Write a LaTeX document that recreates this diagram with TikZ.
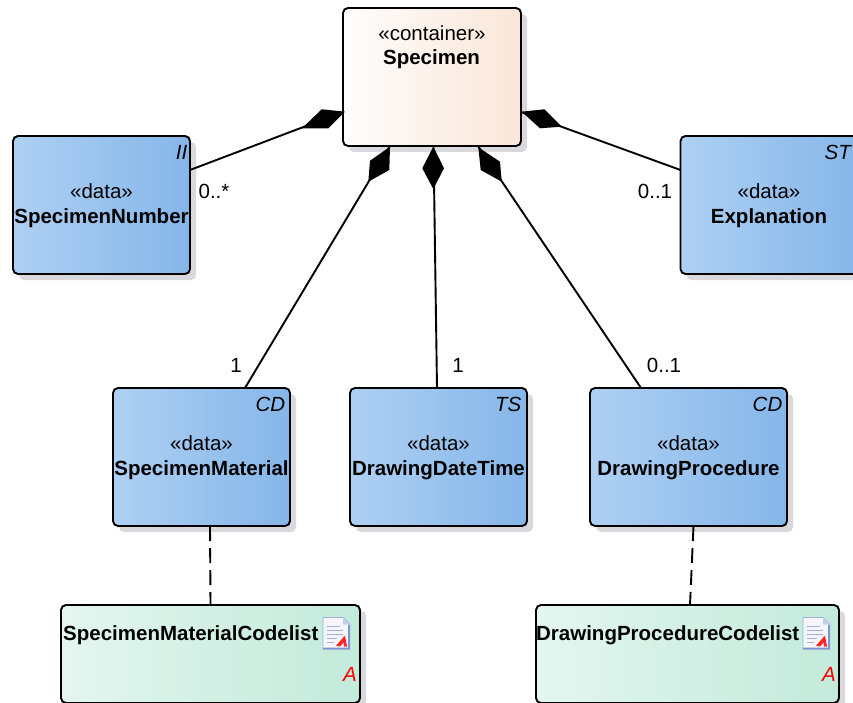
\documentclass[tikz,border=0pt]{standalone}
\usepackage{fontspec}
\setmainfont{Liberation Sans}
\usetikzlibrary{shadows,calc}
\definecolor{blueL}{HTML}{AED0F3}
\definecolor{blueR}{HTML}{85B6E9}
\definecolor{peachL}{HTML}{FFFDFC}
\definecolor{peachR}{HTML}{FAE6D9}
\definecolor{greenL}{HTML}{E4F6EF}
\definecolor{greenR}{HTML}{C2EADB}
\definecolor{shadowgray}{HTML}{D8D8DD}
\definecolor{iconline}{HTML}{A3AEDB}
\definecolor{iconedge}{HTML}{7F95CF}
\definecolor{iconpage}{HTML}{F4F6FC}
\newcommand{\datatext}[1]{\rule{0pt}{17pt}«data»\\\textbf{#1}}
\tikzset{
  umlbox/.style={draw=black,line width=1.9pt,rounded corners=5pt,inner sep=0pt,outer sep=0pt,align=center,
    drop shadow={shadow xshift=6pt,shadow yshift=-6pt,opacity=1,fill=shadowgray}},
  databox/.style={umlbox,minimum height=138pt,left color=blueL,right color=blueR},
  containerbox/.style={umlbox,minimum height=138pt,minimum width=178pt,left color=peachL,right color=peachR},
  codebox/.style={umlbox,minimum height=98pt,left color=greenL,right color=greenR},
  txt/.style={font=\fontsize{20.5}{25}\selectfont,inner sep=0pt},
  tag/.style={txt,font=\fontsize{20.5}{25}\selectfont\itshape,anchor=east},
  assoc/.style={draw=black,line width=1.9pt},
  realize/.style={draw=black,line width=1.9pt,dash pattern=on 15pt off 7pt},
  compdiamond/.style={fill=black,draw=none},
  codeicon/.pic={
    \fill[iconpage] (0,0) -- (20,0) -- (27,7) -- (27,32) -- (0,32) -- cycle;
    \fill[iconedge] (25,7) -- (27,7) -- (27,32) -- (0,32) -- (0,30) -- (25,30) -- cycle;
    \draw[iconline,line width=.8pt] (0,32) -- (0,0) -- (20,0) -- (27,7);
    \fill[iconline!60] (20,0) -- (20,7) -- (27,7) -- cycle;
    \foreach \yy/\xx in {9/17,13/20,17/20,21/14,25/11}
      \draw[iconline,line width=1.2pt] (4,\yy) -- (\xx,\yy);
    \fill[red!85!white] (13,28) -- (22,18) -- (24,29) -- (21,29) -- (20.5,25) -- (17,29) -- cycle;
  }
}
\begin{document}
\begin{tikzpicture}[x=1pt,y=-1pt]
    \useasboundingbox (0,0) rectangle (853,703);
    \clip (0,0) rectangle (853,703);
%% boxes, top row first
    \node[containerbox] (Specimen) at (432,77) {};
    \node[databox,minimum width=177pt,txt] (SpecimenNumber) at (101.5,205) {\datatext{SpecimenNumber}};
    \node[databox,minimum width=177pt,txt] (Explanation) at (769,205) {\datatext{Explanation}};
    \node[databox,minimum width=177pt,txt] (SpecimenMaterial) at (201.5,457) {\datatext{SpecimenMaterial}};
    \node[databox,minimum width=177pt,txt] (DrawingDateTime) at (438.5,457) {\datatext{DrawingDateTime}};
    \node[databox,minimum width=197pt,txt] (DrawingProcedure) at (688.5,457) {\datatext{DrawingProcedure}};
    \node[codebox,minimum width=299pt] (SpecimenMaterialCodelist) at (210.5,654) {};
    \node[codebox,minimum width=303pt] (DrawingProcedureCodelist) at (687.5,654) {};
%% texts that are not centred in their box
    \node[txt] (containerStereo) at (432,33.5) {«container»};
    \node[txt] (containerName) at (431.5,59) {\textbf{Specimen}};
    \node[txt,anchor=west] (materialCodeName) at (63,635.5) {\textbf{SpecimenMaterialCodelist}};
    \node[txt,anchor=east] (procedureCodeName) at (799.5,635.5) {\textbf{DrawingProcedureCodelist}};
%% type tags in the corners
    \node[tag] (tagII) at (187.5,152) {II};
    \node[tag] (tagST) at (851,152) {ST};
    \node[tag] (tagCDa) at (285.5,404) {CD};
    \node[tag] (tagTS) at (521.5,404) {TS};
    \node[tag] (tagCDb) at (782.5,404) {CD};
    \node[tag,red] (tagAa) at (357,674) {A};
    \node[tag,red] (tagAb) at (836,674) {A};
%% document icons
    \pic (iconA) at (323,617.5) {codeicon};
    \pic (iconB) at (803,617.5) {codeicon};
%% connectors
    \draw[assoc] ([yshift=35pt]SpecimenNumber.east) -- ([yshift=-35pt]Specimen.west);
    \draw[assoc] ([yshift=35pt]Explanation.west) -- ([yshift=-35pt]Specimen.east);
    \draw[assoc] ([xshift=43.5pt]SpecimenMaterial.north) -- ([xshift=-42pt]Specimen.south);
    \draw[assoc] ([xshift=-1.5pt]DrawingDateTime.north) -- ([xshift=1.5pt]Specimen.south);
    \draw[assoc] ([xshift=-47.5pt]DrawingProcedure.north) -- ([xshift=46pt]Specimen.south);
    \draw[realize] ([xshift=8.5pt]SpecimenMaterial.south) -- (SpecimenMaterialCodelist.north);
    \draw[realize] ([xshift=5pt]DrawingProcedure.south) -- ([xshift=2.5pt]DrawingProcedureCodelist.north);
%% the filled diamonds at the container end
    \fill[compdiamond] (345,111.7) -- (321.7,109.3) -- (302,128.3) -- (328.3,128.3) -- cycle;
    \fill[compdiamond] (521.7,111.7) -- (544.3,109.3) -- (561.7,126.7) -- (540,128.3) -- cycle;
    \fill[compdiamond] (390,146.7) -- (370,160.7) -- (368.3,181.7) -- (389.3,170) -- cycle;
    \fill[compdiamond] (433.3,146.7) -- (422.3,168.3) -- (433.3,189) -- (444,168.3) -- cycle;
    \fill[compdiamond] (478.3,147.3) -- (480.7,170) -- (501.7,181.7) -- (500,161.7) -- cycle;
%% multiplicities
    \node[txt] (multNumber) at (214,191) {0..*};
    \node[txt] (multExplanation) at (655,191) {0..1};
    \node[txt] (multMaterial) at (236,365) {1};
    \node[txt] (multDateTime) at (458,365) {1};
    \node[txt] (multProcedure) at (664,365) {0..1};
\end{tikzpicture}
\end{document}
